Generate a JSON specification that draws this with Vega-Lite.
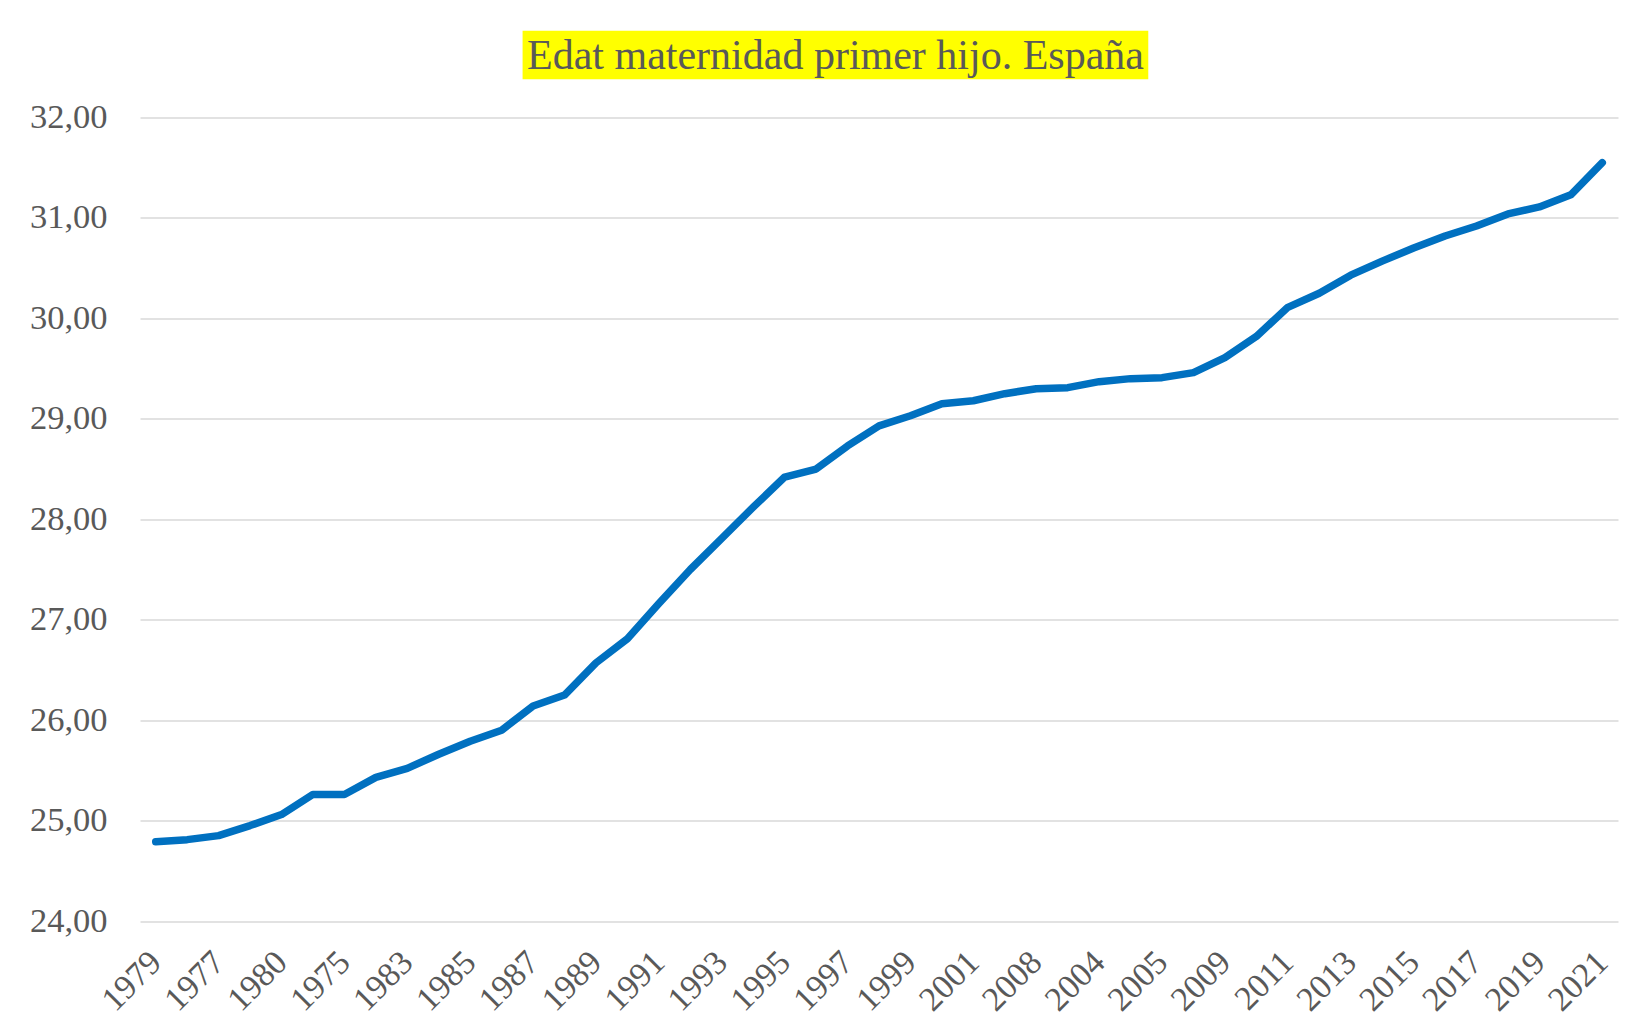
{
  "$schema": "https://vega.github.io/schema/vega-lite/v6.json",
  "width": 1478,
  "height": 803.5,
  "autosize": {"type": "none"},
  "padding": {"left": 140, "top": 117.5, "right": 34, "bottom": 97},
  "background": "white",
  "title": {
    "text": "Edat maternidad primer hijo. España",
    "font": "Liberation Serif",
    "fontSize": 42,
    "fontWeight": "normal",
    "color": "#595959",
    "anchor": "middle",
    "frame": "group",
    "dx": -43.5,
    "dy": 41.3,
    "baseline": "alphabetic",
    "offset": -38.7,
    "zindex": 1
  },
  "config": {"view": {"stroke": null}, "font": "Liberation Serif"},
  "layer": [
    {
      "data": {"values": [{"highlight": "title"}]},
      "mark": {"type": "rect", "color": "#ffff00", "xOffset": -10.5, "x2Offset": 17.7, "clip": false},
      "encoding": {
        "x": {"datum": "1987", "type": "ordinal"},
        "x2": {"datum": "2006"},
        "y": {"datum": 32.864, "type": "quantitative"},
        "y2": {"datum": 32.382}
      }
    },
    {
      "data": {
        "values": [
          {"year": "1979", "age": 24.79},
          {"year": "1976", "age": 24.81},
          {"year": "1977", "age": 24.85},
          {"year": "1978", "age": 24.95},
          {"year": "1980", "age": 25.06},
          {"year": "1981", "age": 25.26},
          {"year": "1975", "age": 25.26},
          {"year": "1982", "age": 25.43},
          {"year": "1983", "age": 25.52},
          {"year": "1984", "age": 25.66},
          {"year": "1985", "age": 25.79},
          {"year": "1986", "age": 25.90},
          {"year": "1987", "age": 26.14},
          {"year": "1988", "age": 26.25},
          {"year": "1989", "age": 26.57},
          {"year": "1990", "age": 26.81},
          {"year": "1991", "age": 27.16},
          {"year": "1992", "age": 27.50},
          {"year": "1993", "age": 27.81},
          {"year": "1994", "age": 28.12},
          {"year": "1995", "age": 28.42},
          {"year": "1996", "age": 28.50},
          {"year": "1997", "age": 28.73},
          {"year": "1998", "age": 28.93},
          {"year": "1999", "age": 29.03},
          {"year": "2000", "age": 29.15},
          {"year": "2001", "age": 29.18},
          {"year": "2002", "age": 29.25},
          {"year": "2008", "age": 29.30},
          {"year": "2003", "age": 29.31},
          {"year": "2004", "age": 29.37},
          {"year": "2006", "age": 29.40},
          {"year": "2005", "age": 29.41},
          {"year": "2007", "age": 29.46},
          {"year": "2009", "age": 29.61},
          {"year": "2010", "age": 29.82},
          {"year": "2011", "age": 30.11},
          {"year": "2012", "age": 30.25},
          {"year": "2013", "age": 30.43},
          {"year": "2014", "age": 30.57},
          {"year": "2015", "age": 30.70},
          {"year": "2016", "age": 30.82},
          {"year": "2017", "age": 30.92},
          {"year": "2018", "age": 31.04},
          {"year": "2019", "age": 31.11},
          {"year": "2020", "age": 31.23},
          {"year": "2021", "age": 31.55}
        ]
      },
      "mark": {"type": "line", "color": "#0070C0", "strokeWidth": 7.5, "strokeCap": "round", "strokeJoin": "round"},
      "encoding": {
        "x": {
          "field": "year",
          "type": "ordinal",
          "sort": null,
          "scale": {
            "type": "point",
            "padding": 0.5,
            "domain": ["1979", "1976", "1977", "1978", "1980", "1981", "1975", "1982", "1983", "1984", "1985", "1986", "1987", "1988", "1989", "1990", "1991", "1992", "1993", "1994", "1995", "1996", "1997", "1998", "1999", "2000", "2001", "2002", "2008", "2003", "2004", "2006", "2005", "2007", "2009", "2010", "2011", "2012", "2013", "2014", "2015", "2016", "2017", "2018", "2019", "2020", "2021"]
          },
          "axis": {
            "title": null,
            "values": ["1979", "1977", "1980", "1975", "1983", "1985", "1987", "1989", "1991", "1993", "1995", "1997", "1999", "2001", "2008", "2004", "2005", "2009", "2011", "2013", "2015", "2017", "2019", "2021"],
            "labelAngle": -45,
            "labelAlign": "right",
            "labelBaseline": "middle",
            "labelFont": "Liberation Serif",
            "labelFontSize": 34,
            "labelColor": "#595959",
            "labelPadding": 36,
            "labelOverlap": false,
            "ticks": false,
            "domain": false,
            "grid": false
          }
        },
        "y": {
          "field": "age",
          "type": "quantitative",
          "scale": {"domain": [24, 32], "nice": false, "zero": false},
          "axis": {
            "title": null,
            "values": [24, 25, 26, 27, 28, 29, 30, 31, 32],
            "labelExpr": "replace(format(datum.value, '.2f'), '.', ',')",
            "labelFont": "Liberation Serif",
            "labelFontSize": 34.5,
            "labelColor": "#595959",
            "labelPadding": 33,
            "ticks": false,
            "domain": false,
            "grid": true,
            "gridColor": "#d9d9d9",
            "gridWidth": 1.5
          }
        }
      }
    }
  ]
}
